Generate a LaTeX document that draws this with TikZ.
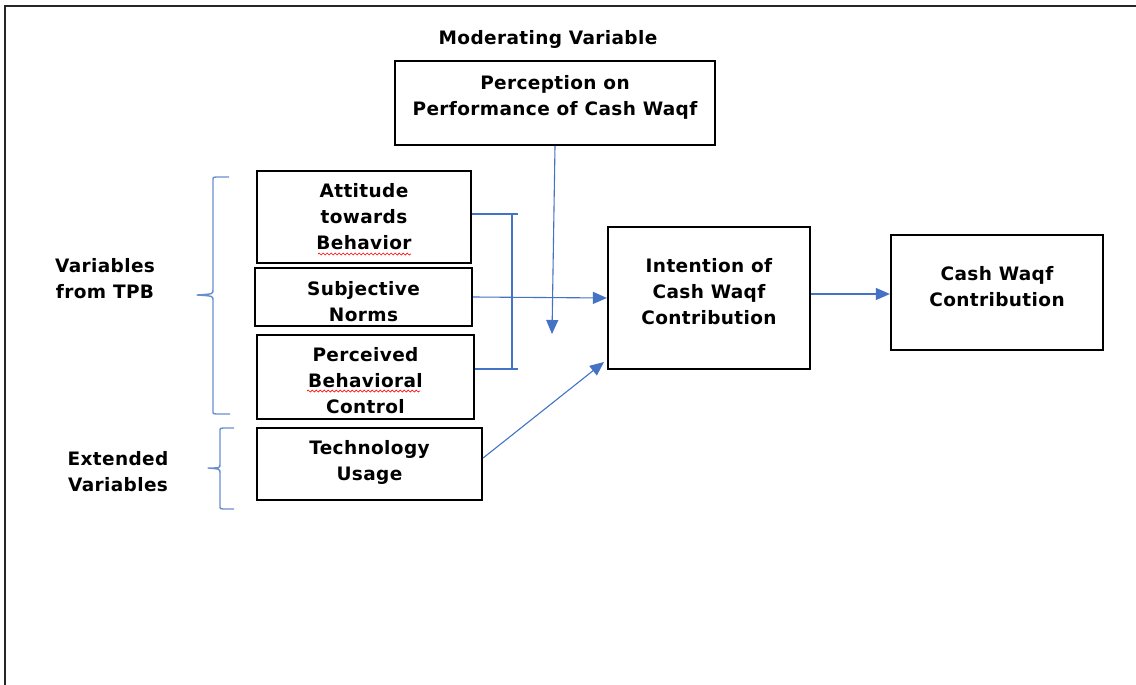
\documentclass[tikz,border=0pt]{standalone}
\usepackage{fontspec}
\setmainfont{DejaVu Sans}[LetterSpace=2]
\usetikzlibrary{arrows.meta,decorations.pathmorphing}
\definecolor{lnblue}{RGB}{68,114,196}
\tikzset{
  box/.style={draw=black,line width=2.2pt,rectangle,inner sep=0pt},
  txt/.style={font=\bfseries\fontsize{18.5}{26}\selectfont,align=center,inner sep=0pt},
  conn/.style={draw=lnblue,line width=1.1pt},
  arr/.style={conn,-{Triangle[length=14pt,width=12pt]}},
  brk/.style={draw=lnblue!80,line width=1.4pt,line join=round},
  squig/.style={draw=red,line width=0.7pt,decorate,decoration={snake,amplitude=1pt,segment length=4pt}}
}
\begin{document}
\begin{tikzpicture}[x=1pt,y=-1pt]
\useasboundingbox (0,0) rectangle (1136,685);
\fill[white] (0,0) rectangle (1136,685);
% outer frame
\draw[line width=2.5pt,black!85] (5,686) -- (5,6) -- (1137,6);

% boxes
\node[box,minimum width=320pt,minimum height=84pt] (perc) at (555,103) {};
\node[box,minimum width=214pt,minimum height=92pt] (att) at (364,217) {};
\node[box,minimum width=217pt,minimum height=58pt] (subj) at (363.5,297) {};
\node[box,minimum width=217pt,minimum height=84pt] (pbc) at (365.5,377) {};
\node[box,minimum width=225pt,minimum height=72pt] (tech) at (369.5,464) {};
\node[box,minimum width=202pt,minimum height=142pt] (int) at (709,298) {};
\node[box,minimum width=212pt,minimum height=115pt] (cash) at (997,292.5) {};

% texts
\node[txt] (modt) at (548,39) {Moderating Variable};
\node[txt] (perct) at (555,97) {Perception on\\Performance of Cash Waqf};
\node[txt] (attt) at (364,217) {Attitude\\towards\\Behavior};
\node[txt] (subjt) at (363.5,302) {Subjective\\Norms};
\node[txt] (pbct) at (365.5,381) {Perceived\\Behavioral\\Control};
\node[txt] (techt) at (369.5,462) {Technology\\Usage};
\node[txt] (intt) at (709,292) {Intention of\\Cash Waqf\\Contribution};
\node[txt] (casht) at (997,287) {Cash Waqf\\Contribution};
\node[txt] (tpbt) at (105,279) {Variables\\from TPB};
\node[txt] (extt) at (118,472) {Extended\\Variables};

% spell-check squiggles
\draw[squig] (318,254) -- (411,254);
\draw[squig] (307,391) -- (420,391);

% brackets
\draw[brk] (229,177) -- (216,177) .. controls (213,177) .. (213,181) -- (213,290) .. controls (213,294) .. (197,295)
  .. controls (213,296) .. (213,300) -- (213,410) .. controls (213,414) .. (216,414) -- (230,414);
\draw[brk] (234,428) -- (223,428) .. controls (220,428) .. (220,432) -- (220,464) .. controls (220,468) .. (208,468)
  .. controls (220,469) .. (220,473) -- (220,505) .. controls (220,509) .. (223,509) -- (234,509);

% connectors
\coordinate (ja) at (518,214);
\coordinate (jp) at (518,369);
\draw[conn] (att.east |- 0,214) -- (ja);
\draw[conn] (pbc.east |- 0,369) -- (jp);
\draw[conn] (512,214) -- (512,369);
\draw[arr] (subj.east |- 0,297) -- (int.west |- 0,298);
\coordinate (modend) at (552,334);
\draw[arr] (perc.south -| 555,0) -- (modend);
\coordinate (techend) at (604,362);
\draw[arr] (tech.east |- 0,458) -- (techend);
\draw[arr] (int.east |- 0,294) -- (cash.west |- 0,294);
\end{tikzpicture}
\end{document}
